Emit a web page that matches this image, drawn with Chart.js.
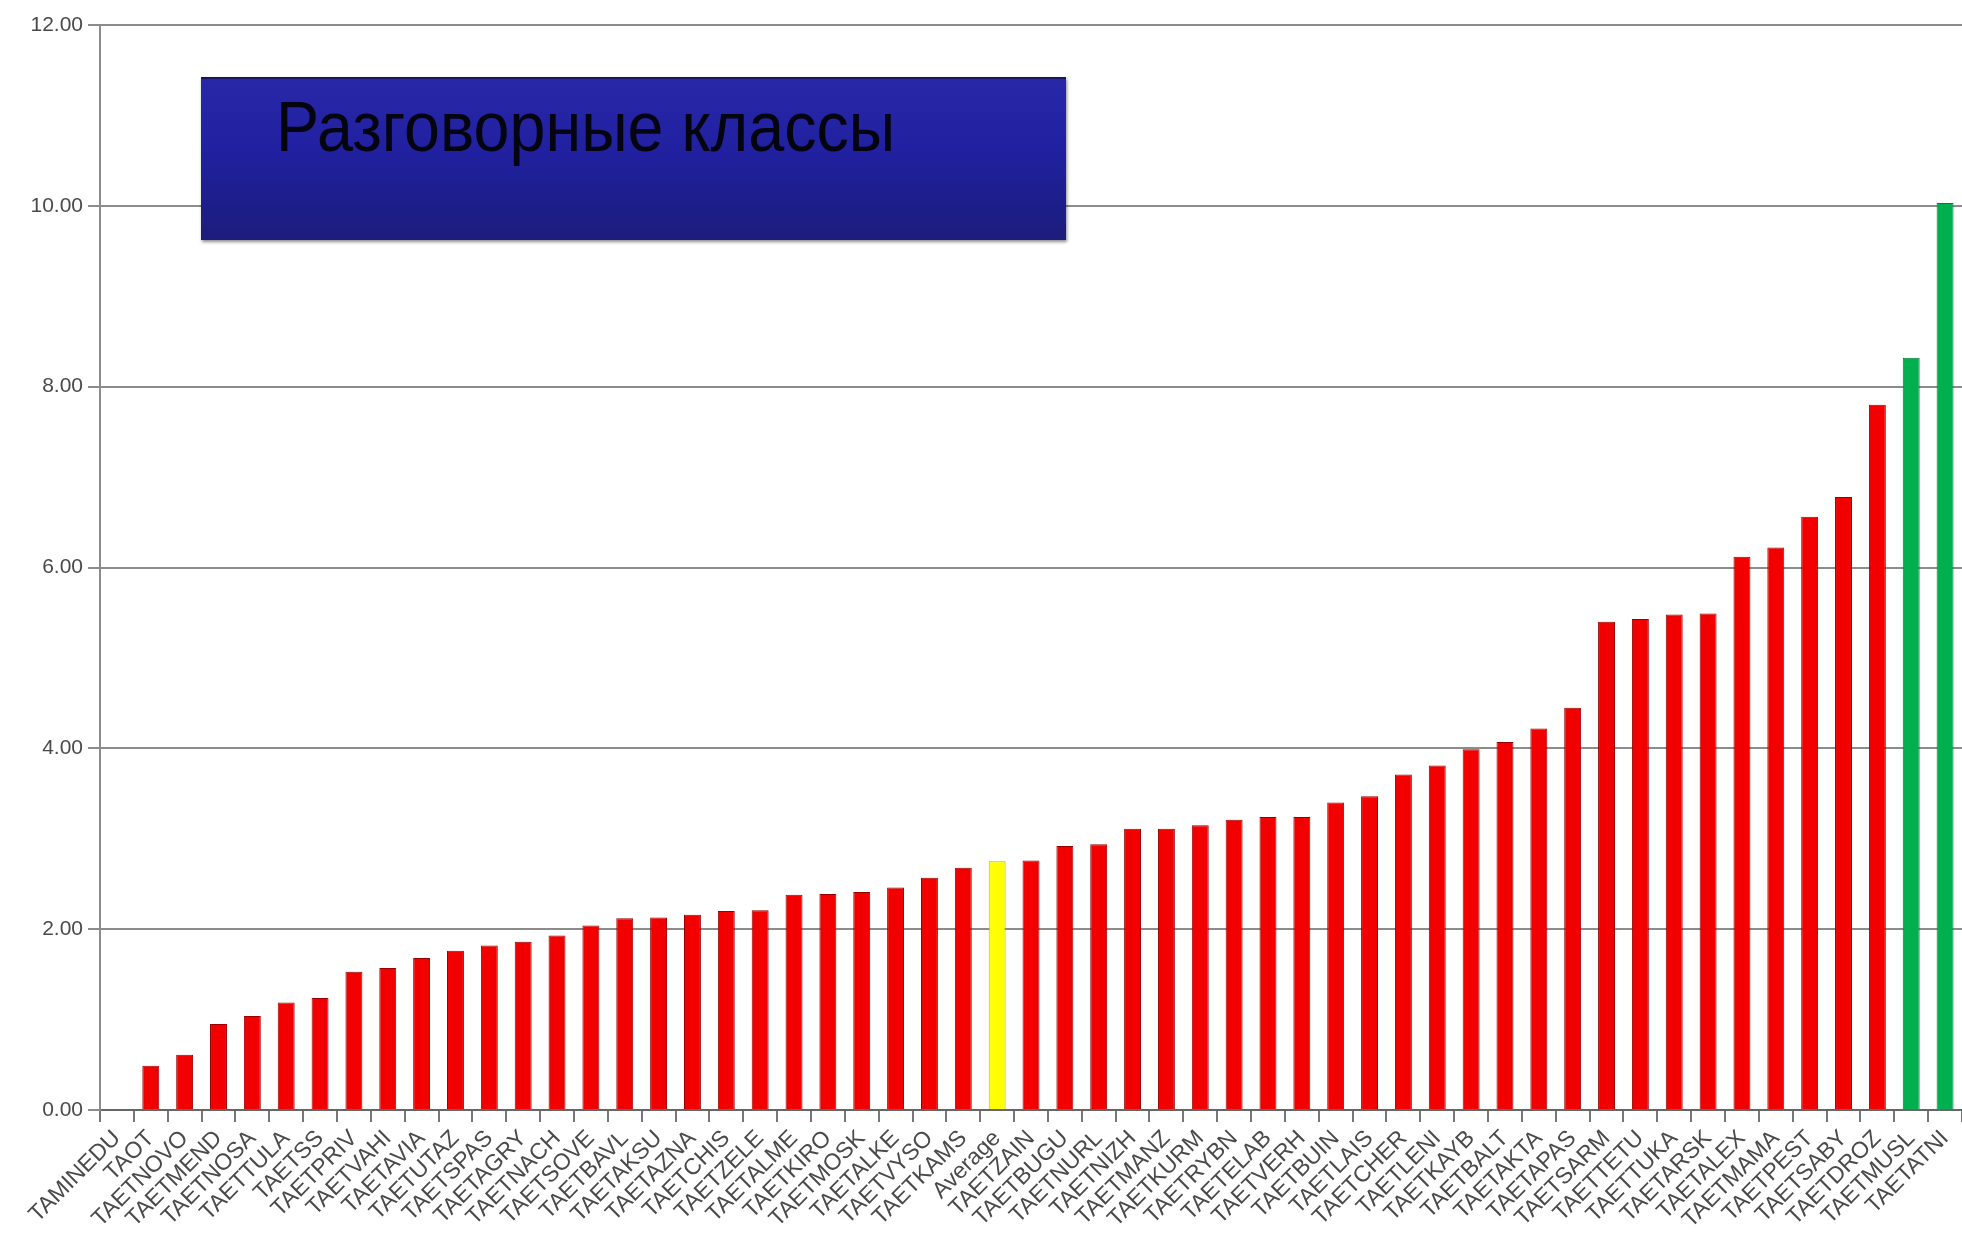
<!DOCTYPE html>
<html lang="ru">
<head>
    <meta charset="UTF-8">
    <title>Разговорные классы</title>
    <style>
        body {
            margin: 0;
            background: #fff;
            font-family: "Liberation Sans", Arial, sans-serif;
        }
        #wrap {
            position: relative;
            width: 1962px;
            height: 1245px;
        }
        .title-box {
            position: absolute;
            left: 201px;
            top: 77px;
            width: 865px;
            height: 163px;
            box-sizing: border-box;
            padding: 13px 0 0 75px;
            background: linear-gradient(#2727a8, #2020a0 45%, #1c1c7c);
            border-top: 2px solid #151560;
            box-shadow: 1px 2px 3px rgba(0, 0, 0, 0.45);
            color: #050510;
        }
        .title-box span {
            display: inline-block;
            font-size: 64px;
            line-height: 64px;
            transform: scale(1.01, 1.1);
            transform-origin: left top;
        }
    </style>
    <script src="https://cdn.jsdelivr.net/npm/chart.js"></script>
</head>
<body>
    <div id="wrap">
        <canvas id="classChart"></canvas>
        <div class="title-box"><span>Разговорные классы</span></div>
    </div>

    <script>
        // categories (schools), left to right
        const schools = [
            'TAMINEDU', 'TAOT', 'TAETNOVO', 'TAETMEND', 'TAETNOSA', 'TAETTULA', 'TAETSS',
            'TAETPRIV', 'TAETVAHI', 'TAETAVIA', 'TAETUTAZ', 'TAETSPAS', 'TAETAGRY', 'TAETNACH',
            'TAETSOVE', 'TAETBAVL', 'TAETAKSU', 'TAETAZNA', 'TAETCHIS', 'TAETZELE', 'TAETALME',
            'TAETKIRO', 'TAETMOSK', 'TAETALKE', 'TAETVYSO', 'TAETKAMS', 'Average', 'TAETZAIN',
            'TAETBUGU', 'TAETNURL', 'TAETNIZH', 'TAETMANZ', 'TAETKURM', 'TAETRYBN', 'TAETELAB',
            'TAETVERH', 'TAETBUIN', 'TAETLAIS', 'TAETCHER', 'TAETLENI', 'TAETKAYB', 'TAETBALT',
            'TAETAKTA', 'TAETAPAS', 'TAETSARM', 'TAETTETU', 'TAETTUKA', 'TAETARSK', 'TAETALEX',
            'TAETMAMA', 'TAETPEST', 'TAETSABY', 'TAETDROZ', 'TAETMUSL', 'TAETATNI'
        ];

        // values
        const classValues = [
            0, 0.49, 0.61, 0.95, 1.04, 1.19, 1.24,
            1.53, 1.57, 1.68, 1.76, 1.82, 1.86, 1.93,
            2.04, 2.12, 2.13, 2.16, 2.20, 2.21, 2.38,
            2.39, 2.41, 2.46, 2.57, 2.68, 2.75, 2.76,
            2.92, 2.94, 3.11, 3.11, 3.15, 3.21, 3.24,
            3.24, 3.40, 3.47, 3.71, 3.81, 3.99, 4.07,
            4.22, 4.45, 5.40, 5.43, 5.48, 5.49, 6.12,
            6.22, 6.56, 6.78, 7.80, 8.32, 10.03
        ];

        const averageName = 'Average';
        const greenSchools = ['TAETMUSL', 'TAETATNI'];

        const yTicks = [0, 2, 4, 6, 8, 10, 12];

        // bar colours
        const fills = schools.map(s => s === averageName ? '#ffff00'
            : greenSchools.includes(s) ? '#00b04f' : '#f20000');
        const edges = schools.map(s => s === averageName ? '#b8b800'
            : greenSchools.includes(s) ? '#0a7a3a' : '#9a0000');

        const labelFont = '"Liberation Sans", Arial, sans-serif';

        const ctx = document.getElementById('classChart').getContext('2d');
        new Chart(ctx, {
            type: 'bar',
            data: {
                labels: schools,
                datasets: [{
                    data: classValues,
                    backgroundColor: fills,
                    borderColor: edges,
                    borderWidth: { left: 1, right: 1, top: 1, bottom: 0 },
                    barPercentage: 0.5,
                    categoryPercentage: 1.0
                }]
            },
            options: {
                responsive: true,
                maintainAspectRatio: false,
                animation: false,
                layout: {
                    padding: { top: 25, right: 0, left: 0, bottom: 0 }
                },
                plugins: {
                    legend: { display: false },
                    tooltip: { enabled: false }
                },
                scales: {
                    x: {
                        offset: true,
                        grid: {
                            offset: true,
                            drawOnChartArea: false,
                            drawTicks: true,
                            tickLength: 12,
                            color: '#777',
                            lineWidth: 2
                        },
                        border: { color: '#666', width: 2 },
                        ticks: {
                            autoSkip: false,
                            minRotation: 45,
                            maxRotation: 45,
                            padding: 3,
                            color: '#4a4a4a',
                            font: { family: labelFont, size: 23 }
                        },
                        afterFit: scale => {
                            scale.height = 135;
                            scale.paddingRight = 0;
                        }
                    },
                    y: {
                        min: yTicks[0],
                        max: yTicks[yTicks.length - 1],
                        afterBuildTicks: scale => {
                            scale.ticks = yTicks.map(v => ({ value: v }));
                        },
                        ticks: {
                            callback: v => Number(v).toFixed(2),
                            padding: 5,
                            color: '#4a4a4a',
                            font: { family: labelFont, size: 21 }
                        },
                        grid: {
                            color: '#8c8c8c',
                            lineWidth: 2,
                            tickLength: 12
                        },
                        border: { color: '#8c8c8c', width: 2 },
                        afterFit: scale => { scale.width = 100; }
                    }
                }
            }
        });
    </script>
</body>
</html>
